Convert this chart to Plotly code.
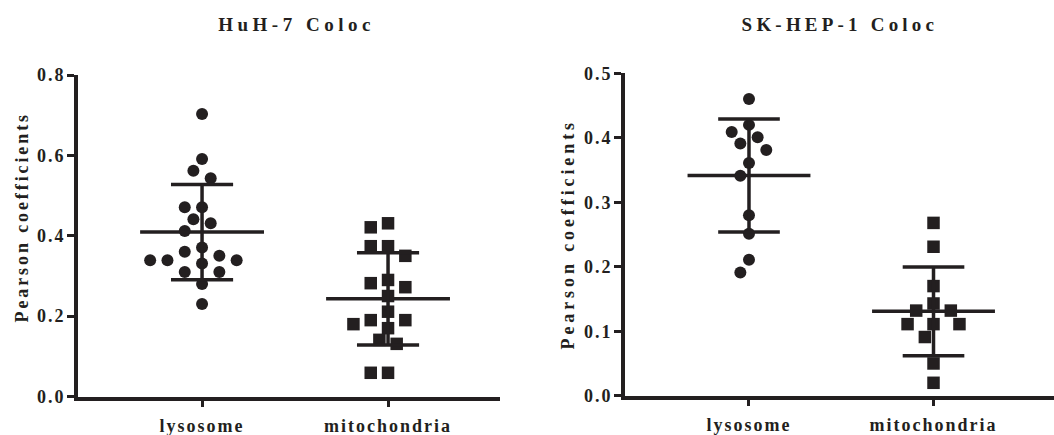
import numpy as np
import plotly.graph_objects as go

# ---- data -----------------------------------------------------------------
categories = ["lysosome", "mitochondria"]
panel_titles = ["HuH-7 Coloc", "SK-HEP-1 Coloc"]
y_title = "Pearson coefficients"

huh7_lysosome = [0.703, 0.591, 0.562, 0.543, 0.471, 0.471, 0.441, 0.431, 0.412,
                 0.371, 0.360, 0.350, 0.339, 0.339, 0.339, 0.331, 0.310, 0.310,
                 0.280, 0.230]
huh7_mitochondria = [0.431, 0.421, 0.374, 0.374, 0.350, 0.290, 0.282, 0.272,
                     0.250, 0.211, 0.190, 0.190, 0.180, 0.170, 0.141, 0.131,
                     0.059, 0.059]
skhep1_lysosome = [0.460, 0.420, 0.409, 0.401, 0.391, 0.381, 0.361, 0.341,
                   0.280, 0.251, 0.211, 0.191]
skhep1_mitochondria = [0.268, 0.231, 0.170, 0.143, 0.132, 0.132, 0.111, 0.111,
                       0.111, 0.091, 0.050, 0.020]

huh7_ticks = [0.0, 0.2, 0.4, 0.6, 0.8]
skhep1_ticks = [0.0, 0.1, 0.2, 0.3, 0.4, 0.5]

# ---- layout constants -----------------------------------------------------
W, H = 1054, 435
INK = "#231f20"
FONT = "Liberation Serif"

# panel geometry in pixels: (left, right), (top, bottom)
panels = [
    dict(px=(78, 500), py=(75, 396.5), yrange=[0, 0.8], xrange=[-0.667, 1.602]),
    dict(px=(625, 1054), py=(73.3, 395.7), yrange=[0, 0.5], xrange=[-0.672, 1.653]),
]


def swarm_offsets(values, px_per_y, px_per_x, min_dist=14.0, slot=8.65):
    """Greedy beeswarm: each point takes the closest free horizontal slot."""
    vals = np.asarray(values, dtype=float)
    order = np.argsort(-vals, kind="stable")
    placed = []
    out = np.zeros(len(vals))
    cands = [0] + [s * j for j in range(1, 60) for s in (-1, 1)]
    for i in order:
        y = vals[i] * px_per_y
        x = 0.0
        for c in cands:
            x = c * slot
            if all((x - a) ** 2 + (y - b) ** 2 >= min_dist ** 2 for a, b in placed):
                break
        placed.append((x, y))
        out[i] = x / px_per_x
    return out


def mean_sd_segments(values, xc, half_mean=0.333, half_cap=0.167):
    m = float(np.mean(values))
    sd = float(np.std(values, ddof=1))
    xs = [xc - half_mean, xc + half_mean, None,
          xc, xc, None,
          xc - half_cap, xc + half_cap, None,
          xc - half_cap, xc + half_cap]
    ys = [m, m, None,
          m - sd, m + sd, None,
          m + sd, m + sd, None,
          m - sd, m - sd]
    return xs, ys


fig = go.Figure()

groups = [
    (huh7_lysosome, huh7_mitochondria),
    (skhep1_lysosome, skhep1_mitochondria),
]
symbols = ["circle", "square"]
sizes = [12, 12.5]

for p, (series, geo) in enumerate(zip(groups, panels)):
    xa = "x" if p == 0 else "x2"
    ya = "y" if p == 0 else "y2"
    px_per_x = (geo["px"][1] - geo["px"][0]) / (geo["xrange"][1] - geo["xrange"][0])
    px_per_y = (geo["py"][1] - geo["py"][0]) / (geo["yrange"][1] - geo["yrange"][0])
    for c, vals in enumerate(series):
        offs = swarm_offsets(vals, px_per_y, px_per_x)
        fig.add_trace(go.Scatter(
            x=c + offs, y=vals, mode="markers", xaxis=xa, yaxis=ya,
            marker=dict(symbol=symbols[c], size=sizes[c], color=INK,
                        line=dict(width=0)),
            showlegend=False, hoverinfo="y", cliponaxis=False))
        sx, sy = mean_sd_segments(vals, c)
        fig.add_trace(go.Scatter(
            x=sx, y=sy, mode="lines", xaxis=xa, yaxis=ya,
            line=dict(color=INK, width=3.5), showlegend=False,
            hoverinfo="skip", cliponaxis=False))

tick_font = dict(family=FONT, size=18, color=INK, weight="bold")


def xaxis_cfg(geo):
    return dict(domain=[geo["px"][0] / W, geo["px"][1] / W], range=geo["xrange"],
                tickvals=[0, 1], ticktext=categories, ticks="outside", ticklen=6,
                tickwidth=3, tickcolor=INK, showline=True, linewidth=4,
                linecolor=INK, showgrid=False, zeroline=False, tickfont=tick_font,
                ticklabelstandoff=4, automargin=False, fixedrange=True)


def yaxis_cfg(geo, ticks, anchor):
    return dict(domain=[1 - geo["py"][1] / H, 1 - geo["py"][0] / H],
                range=geo["yrange"], tickvals=ticks,
                ticktext=[f"{t:.1f}" for t in ticks], ticks="outside", ticklen=7,
                tickwidth=3, tickcolor=INK, showline=True, linewidth=4,
                linecolor=INK, showgrid=False, zeroline=False, tickfont=tick_font,
                ticklabelstandoff=-2, anchor=anchor, automargin=False,
                fixedrange=True)


fig.update_layout(
    width=W, height=H, margin=dict(l=0, r=0, t=0, b=0, autoexpand=False),
    paper_bgcolor="white", plot_bgcolor="white",
    font=dict(family=FONT, color=INK),
    xaxis=dict(xaxis_cfg(panels[0]), anchor="y"),
    yaxis=yaxis_cfg(panels[0], huh7_ticks, "x"),
    xaxis2=dict(xaxis_cfg(panels[1]), anchor="y2"),
    yaxis2=yaxis_cfg(panels[1], skhep1_ticks, "x2"),
)

title_font = dict(family=FONT, size=19, color=INK, weight="bold")
axis_title_font = dict(family=FONT, size=18, color=INK, weight="bold")
fig.add_annotation(text=panel_titles[0], x=296 / W, y=1 - 24 / H, xref="paper",
                   yref="paper", showarrow=False, font=title_font,
                   xanchor="center", yanchor="middle")
fig.add_annotation(text=panel_titles[1], x=840 / W, y=1 - 24 / H, xref="paper",
                   yref="paper", showarrow=False, font=title_font,
                   xanchor="center", yanchor="middle")
fig.add_annotation(text=y_title, x=21 / W, y=1 - 217.5 / H, xref="paper",
                   yref="paper", showarrow=False, font=axis_title_font,
                   textangle=-90, xanchor="center", yanchor="middle")
fig.add_annotation(text=y_title, x=567 / W, y=1 - 234.5 / H, xref="paper",
                   yref="paper", showarrow=False, font=axis_title_font,
                   textangle=-90, xanchor="center", yanchor="middle")

# page without body margin, and widened tracking on every label
page_js = """
document.documentElement.style.margin = '0';
document.documentElement.style.overflow = 'hidden';
document.body.style.margin = '0';
document.body.style.overflow = 'hidden';
var gd = document.getElementById('{plot_id}');
var annSpacing = ['4.5px', '4.2px', '2.9px', '3.9px'];
function track() {
  gd.querySelectorAll('.annotation-text').forEach(function (t, i) {
    t.style.letterSpacing = annSpacing[i] || '3px';
  });
  gd.querySelectorAll('.xtick text, .x2tick text').forEach(function (t) {
    t.style.letterSpacing = '2px';
  });
  gd.querySelectorAll('.ytick text, .y2tick text').forEach(function (t) {
    t.style.letterSpacing = '2px';
  });
}
track();
gd.on('plotly_afterplot', track);
"""

fig.write_html("out.html", post_script=page_js)
